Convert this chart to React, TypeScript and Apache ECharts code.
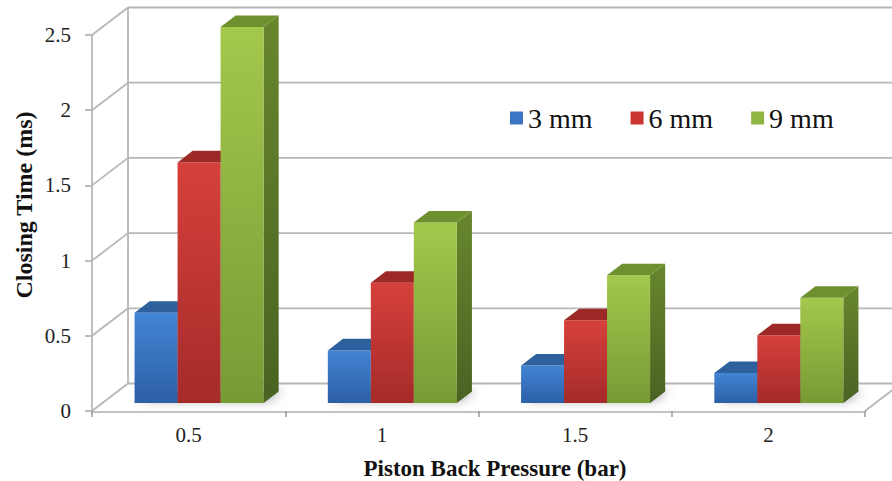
import React, { useEffect, useRef } from 'react';
import * as echarts from 'echarts';

const categories = ['0.5', '1', '1.5', '2'];
const seriesNames = ['3 mm', '6 mm', '9 mm'];
const values3mm = [0.6, 0.35, 0.25, 0.2];
const values6mm = [1.6, 0.8, 0.55, 0.45];
const values9mm = [2.5, 1.2, 0.85, 0.7];
const seriesValues = [values3mm, values6mm, values9mm];
const yTicks = [0, 0.5, 1, 1.5, 2, 2.5];
const xTitle = 'Piston Back Pressure (bar)';
const yTitle = 'Closing Time (ms)';

const FONT = 'Liberation Serif';
const GRID_COLOR = '#b7b7b7';

const palette = [
  { front: ['#4384d4', '#2c5fa6'], side: ['#2f5c98', '#23487c'], top: '#2f609e', legend: '#3b74c2' },
  { front: ['#d6403c', '#a52b29'], side: ['#8e2523', '#6f1c1a'], top: '#9c2926', legend: '#cc3632' },
  { front: ['#a4c84c', '#779a35'], side: ['#68862d', '#4a6222'], top: '#6f902f', legend: '#8fb542' },
];

// geometry fractions of the pseudo-3D box
const WALL_DX = 0.1863; // of category band
const WALL_DY = -0.1828; // of one value unit
const BAR_FRONT = 0.29;
const BAR_DEPTH = 0.42;
const BAR_W = 0.2225; // of category band

const lin = (c: string[]) => ({
  type: 'linear', x: 0, y: 0, x2: 0, y2: 1,
  colorStops: [{ offset: 0, color: c[0] }, { offset: 1, color: c[1] }],
});

function frameRender(params: any, api: any) {
  const cs = params.coordSys;
  const L = cs.x;
  const R = cs.x + cs.width;
  const band = api.size([1, 0])[0];
  const unitY = api.size([0, 1])[1];
  const Dx = WALL_DX * band;
  const Dy = WALL_DY * unitY;
  const B = api.coord([0, 0])[1];
  const children: any[] = [];
  children.push({
    type: 'polygon',
    shape: { points: [[L, B], [R, B], [R + Dx, B + Dy], [L + Dx, B + Dy]] },
    style: { fill: '#ffffff' },
  });
  const ls = { stroke: GRID_COLOR, lineWidth: 1.8 };
  yTicks.forEach((t) => {
    const y = api.coord([0, t])[1];
    children.push({ type: 'line', shape: { x1: L, y1: y, x2: L + Dx, y2: y + Dy }, style: ls });
    children.push({ type: 'line', shape: { x1: L + Dx, y1: y + Dy, x2: R + Dx + 20, y2: y + Dy }, style: ls });
  });
  const yTop = api.coord([0, yTicks[yTicks.length - 1]])[1];
  children.push({ type: 'line', shape: { x1: L + Dx, y1: B + Dy, x2: L + Dx, y2: yTop + Dy }, style: ls });
  children.push({ type: 'line', shape: { x1: R, y1: B, x2: R + Dx, y2: B + Dy }, style: ls });
  categories.forEach((_, i) => {
    const c = api.coord([i, 0]);
    const gl = c[0] - 1.5 * band * BAR_W + BAR_FRONT * Dx;
    const gr = gl + 3 * band * BAR_W;
    const yB = c[1] + BAR_FRONT * Dy;
    const bx = BAR_DEPTH * Dx, by = BAR_DEPTH * Dy;
    children.push({
      type: 'polygon',
      shape: { points: [[gl, yB], [gr, yB], [gr + bx, yB + by], [gl + bx, yB + by]] },
      style: { fill: 'rgba(120,120,120,0.6)', shadowBlur: 10, shadowColor: 'rgba(0,0,0,0.45)', shadowOffsetX: 5, shadowOffsetY: -1 },
    });
  });
  return { type: 'group', children };
}

function makeBarRender(s: number) {
  const col = palette[s];
  return (params: any, api: any) => {
    const i = api.value(0);
    const v = api.value(1);
    const band = api.size([1, 0])[0];
    const unitY = api.size([0, 1])[1];
    const Dx = WALL_DX * band;
    const Dy = WALL_DY * unitY;
    const top = api.coord([i, v]);
    const base = api.coord([i, 0]);
    const w = band * BAR_W;
    const fx = BAR_FRONT * Dx, fy = BAR_FRONT * Dy;
    const bx = BAR_DEPTH * Dx, by = BAR_DEPTH * Dy;
    const x0 = base[0] - 1.5 * w + s * w + fx;
    const x1 = x0 + w;
    const yT = top[1] + fy;
    const yB = base[1] + fy;
    return {
      type: 'group',
      children: [
        {
          type: 'polygon',
          shape: { points: [[x1, yT], [x1 + bx, yT + by], [x1 + bx, yB + by], [x1, yB]] },
          style: { fill: lin(col.side) },
        },
        {
          type: 'rect',
          shape: { x: x0, y: yT, width: w, height: yB - yT },
          style: { fill: lin(col.front) },
        },
        {
          type: 'polygon',
          shape: { points: [[x0, yT], [x1, yT], [x1 + bx, yT + by], [x0 + bx, yT + by]] },
          style: { fill: col.top },
        },
      ],
    };
  };
}

export default function App() {
  const ref = useRef<HTMLDivElement>(null);
  useEffect(() => {
    if (!ref.current) return;
    const chart = echarts.init(ref.current, undefined, { renderer: 'svg' });
    const option: any = {
      animation: false,
      backgroundColor: '#ffffff',
      textStyle: { fontFamily: FONT },
      grid: { left: 92, right: 27, top: 35, bottom: 70, containLabel: false },
      legend: {
        left: 505,
        top: 99,
        icon: 'rect',
        itemWidth: 13,
        itemHeight: 13,
        itemGap: 38,
        textStyle: { fontFamily: FONT, fontSize: 28, color: '#111' },
        data: seriesNames.map((n, k) => ({ name: n, itemStyle: { color: palette[k].legend } })),
      },
      xAxis: {
        type: 'category',
        data: categories,
        boundaryGap: true,
        axisLine: { show: true, lineStyle: { color: '#c2c2c2', width: 3 } },
        axisTick: { show: true, length: 6, lineStyle: { color: '#9a9a9a', width: 1.5 } },
        axisLabel: { fontFamily: FONT, fontSize: 21, color: '#222', margin: 13 },
        splitLine: { show: false },
      },
      yAxis: {
        type: 'value',
        min: 0,
        max: 2.5,
        interval: 0.5,
        axisLine: { show: true, lineStyle: { color: GRID_COLOR, width: 1.8 } },
        axisTick: { show: true, length: 7, lineStyle: { color: GRID_COLOR, width: 1.8 } },
        axisLabel: { fontFamily: FONT, fontSize: 21, color: '#222', margin: 21 },
        splitLine: { show: false },
      },
      graphic: [
        {
          type: 'text',
          x: 495,
          y: 468,
          style: { text: xTitle, fontFamily: FONT, fontSize: 23, fontWeight: 'bold', fill: '#111', textAlign: 'center', textVerticalAlign: 'middle' },
        },
        {
          type: 'text',
          x: 24,
          y: 205,
          rotation: Math.PI / 2,
          style: { text: yTitle, fontFamily: FONT, fontSize: 24, fontWeight: 'bold', fill: '#111', textAlign: 'center', textVerticalAlign: 'middle' },
        },
      ],
      series: [
        {
          type: 'custom',
          name: 'frame',
          silent: true,
          z: 1,
          renderItem: frameRender,
          data: [[0, 0]],
          encode: { x: 0, y: 1 },
        },
        ...seriesNames.map((n, s) => ({
          type: 'custom',
          name: n,
          z: 2 + s,
          itemStyle: { color: palette[s].legend },
          renderItem: makeBarRender(s),
          data: seriesValues[s].map((v, i) => [i, v]),
          encode: { x: 0, y: 1 },
        })),
      ],
    };
    chart.setOption(option);
    return () => chart.dispose();
  }, []);
  return <div ref={ref} style={{ position: 'fixed', left: 0, top: 0, width: 892, height: 481 }} />;
}
